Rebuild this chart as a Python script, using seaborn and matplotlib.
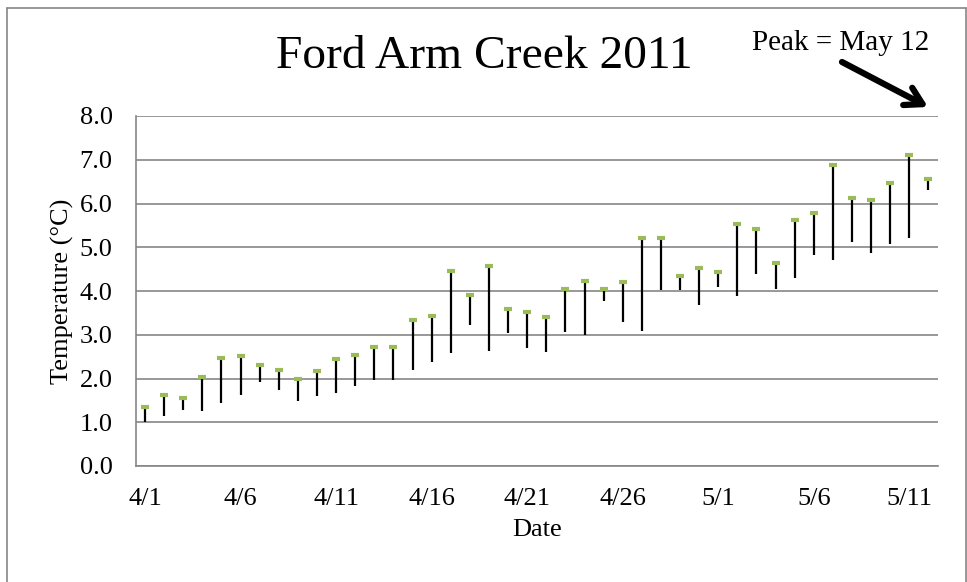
import matplotlib
matplotlib.use("Agg")
import matplotlib.pyplot as plt
from matplotlib.lines import Line2D
import numpy as np
import pandas as pd
import seaborn as sns

# Daily water temperature range, 1 April - 12 May 2011
days = pd.date_range("2011-04-01", "2011-05-12", freq="D")
highs = [1.36, 1.63, 1.55, 2.04, 2.46, 2.52, 2.30, 2.20, 1.98, 2.17,
         2.44, 2.54, 2.73, 2.73, 3.34, 3.42, 4.45, 3.90, 4.58, 3.58,
         3.53, 3.40, 4.05, 4.23, 4.05, 4.21, 5.22, 5.22, 4.34, 4.52,
         4.44, 5.53, 5.41, 4.65, 5.62, 5.78, 6.89, 6.13, 6.07, 6.48,
         7.11, 6.56]
lows = [1.00, 1.14, 1.29, 1.26, 1.43, 1.63, 1.92, 1.73, 1.49, 1.60,
        1.67, 1.82, 1.97, 1.97, 2.19, 2.37, 2.59, 3.23, 2.63, 3.04,
        2.70, 2.61, 3.07, 2.99, 3.78, 3.29, 3.09, 4.03, 4.02, 3.69,
        4.10, 3.88, 4.38, 4.04, 4.30, 4.83, 4.72, 5.11, 4.88, 5.08,
        5.22, 6.32]
y_ticks = [0, 1, 2, 3, 4, 5, 6, 7, 8]
title = "Ford Arm Creek 2011"
note = "Peak = May 12"

df = pd.DataFrame({"day": np.arange(len(days)), "high": highs, "low": lows})
date_labels = [f"{d.month}/{d.day}" for d in days]

sns.set_style("white")
plt.rcParams["font.family"] = ["Liberation Serif", "DejaVu Serif"]
plt.rcParams["text.color"] = "black"
plt.rcParams["axes.labelcolor"] = "black"

W, H = 967, 582
fig = plt.figure(figsize=(W / 100, H / 100), dpi=100)
ax = fig.add_axes([135.5 / W, 1 - 466 / H, (938 - 135.5) / W, (466 - 116) / H])

grey = "#868686"
green = "#9BBB59"

# high-low bars
ax.vlines(df["day"], df["low"], df["high"], color="black", lw=1.6, zorder=3)
sns.scatterplot(data=df, x="day", y="high", marker="_", s=34, color=green,
                linewidth=3.0, edgecolor=green, ax=ax, zorder=4, legend=False)

ax.set_xlim(-0.5, len(days) - 0.5)
ax.set_ylim(0, 8)
ax.set_yticks(y_ticks)
ax.set_yticklabels([f"{v:.1f}" for v in y_ticks], fontsize=19)
ax.yaxis.grid(True, color=grey, lw=1.2)
ax.set_axisbelow(True)

# tick marks at day boundaries, labels centred on every fifth day
label_pos = df["day"][::5].to_numpy()
ax.set_xticks(label_pos - 0.5)
ax.set_xticklabels([])
ax.set_xticks(label_pos, minor=True)
ax.set_xticklabels([date_labels[i] for i in label_pos], minor=True, fontsize=19)
ax.tick_params(axis="x", which="major", length=6, width=1.2, color=grey, direction="out")
ax.tick_params(axis="x", which="minor", length=0, pad=16, labelcolor="black")
ax.tick_params(axis="y", length=6, width=1.2, color=grey, direction="out",
               pad=10.5, labelcolor="black")

for s in ("top", "right"):
    ax.spines[s].set_visible(False)
for s in ("left", "bottom"):
    ax.spines[s].set_color(grey)
    ax.spines[s].set_linewidth(1.2)

ax.set_xlabel("Date", fontsize=19, labelpad=6)
ax.set_ylabel("Temperature (°C)", fontsize=19, labelpad=4)

fig.text(484 / W, 1 - 57 / H, title, ha="center", va="center", fontsize=34.2)
fig.text(841 / W, 1 - 43 / H, note, ha="center", va="center", fontsize=21)
ax.annotate("", xy=(928 / W, 1 - 107 / H), xytext=(842 / W, 1 - 62 / H),
            xycoords="figure fraction", textcoords="figure fraction",
            arrowprops=dict(arrowstyle="->,head_length=1.2,head_width=0.7",
                            lw=4.5, color="black", capstyle="round",
                            joinstyle="round", shrinkA=0, shrinkB=0))

# chart frame
for xs, ys in [((7, 7), (8, 590)), ((7, 966), (8, 8)), ((966, 966), (8, 590))]:
    fig.add_artist(Line2D([x / W for x in xs], [1 - y / H for y in ys],
                          color=grey, lw=1.2, transform=fig.transFigure))

fig.savefig("out.png", dpi=100, facecolor="white")
